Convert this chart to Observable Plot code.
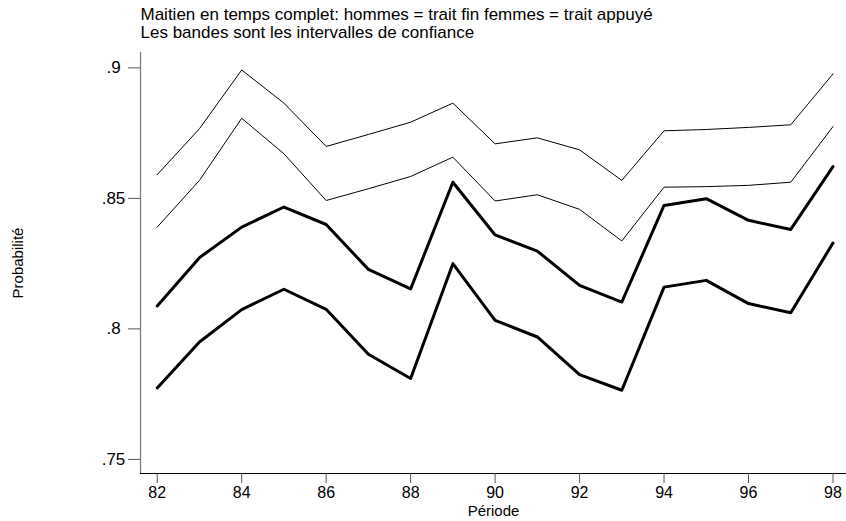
<!DOCTYPE html>
<html>
<head>
<meta charset="utf-8">
<script src="https://cdn.jsdelivr.net/npm/d3@7"></script>
<script src="https://cdn.jsdelivr.net/npm/@observablehq/plot@0.6"></script>
<style>
  html, body { margin: 0; padding: 0; background: #fff; }
  #chart svg { display: block; }
</style>
</head>
<body>
<div id="chart"></div>
<script>
// Period (two-digit years)
const annees = [82, 83, 84, 85, 86, 87, 88, 89, 90, 91, 92, 93, 94, 95, 96, 97, 98];

// Men: upper and lower confidence bands (thin lines)
const hommesHaut = [0.8591, 0.8767, 0.8992, 0.8865, 0.8699, 0.8745, 0.8792, 0.8865, 0.8709,
                    0.8732, 0.8686, 0.8569, 0.8759, 0.8764, 0.8772, 0.8782, 0.8977];
const hommesBas  = [0.8390, 0.8569, 0.8807, 0.8671, 0.8492, 0.8537, 0.8584, 0.8658, 0.8490,
                    0.8514, 0.8458, 0.8337, 0.8543, 0.8545, 0.8550, 0.8562, 0.8775];

// Women: upper and lower confidence bands (thick lines)
const femmesHaut = [0.8088, 0.8273, 0.8390, 0.8467, 0.8400, 0.8228, 0.8153, 0.8562, 0.8360,
                    0.8298, 0.8167, 0.8103, 0.8473, 0.8499, 0.8416, 0.8381, 0.8622];
const femmesBas  = [0.7774, 0.7950, 0.8074, 0.8152, 0.8075, 0.7903, 0.7810, 0.8250, 0.8033,
                    0.7969, 0.7825, 0.7765, 0.8160, 0.8186, 0.8097, 0.8062, 0.8329];

// Axis ticks and labels
const xTicks = [82, 84, 86, 88, 90, 92, 94, 96, 98];
const yTicks = [0.75, 0.8, 0.85, 0.9];
const yTickLabels = [".75", ".8", ".85", ".9"];

const titre1 = "Maitien en temps complet: hommes = trait fin femmes = trait appuyé";
const titre2 = "Les bandes sont les intervalles de confiance";

const serie = (vals) => annees.map((a, i) => ({annee: a, p: vals[i]}));

const font = "'Liberation Sans', Arial, Helvetica, sans-serif";

const chart = Plot.plot({
  width: 846,
  height: 521,
  marginTop: 52,
  marginBottom: 48,
  marginLeft: 140,
  marginRight: 0,
  style: {fontFamily: font, background: "#fff", color: "#000", overflow: "visible"},
  x: {domain: [81.604, 98.32]},
  y: {domain: [0.7446, 0.9059]},
  marks: [
    Plot.frame({anchor: "left", stroke: "#777", strokeWidth: 1.2}),
    Plot.frame({anchor: "bottom", stroke: "#000", strokeWidth: 1.2}),
    Plot.axisY({
      ticks: yTicks,
      tickFormat: (d) => yTickLabels[yTicks.indexOf(d)],
      tickSize: 12,
      tickPadding: 15,
      textAnchor: "middle",
      fontSize: 17,
      stroke: "#555",
      label: null
    }),
    Plot.axisX({
      ticks: xTicks,
      tickFormat: (d) => String(d),
      tickSize: 10,
      tickPadding: 3,
      fontSize: 16,
      stroke: "#555",
      label: null
    }),
    Plot.line(serie(hommesHaut), {x: "annee", y: "p", stroke: "#000", strokeWidth: 1}),
    Plot.line(serie(hommesBas), {x: "annee", y: "p", stroke: "#000", strokeWidth: 1}),
    Plot.line(serie(femmesHaut), {x: "annee", y: "p", stroke: "#000", strokeWidth: 3}),
    Plot.line(serie(femmesBas), {x: "annee", y: "p", stroke: "#000", strokeWidth: 3}),
    Plot.text([titre1], {frameAnchor: "top-left", dy: -38, textAnchor: "start", lineAnchor: "middle", fontSize: 17}),
    Plot.text([titre2], {frameAnchor: "top-left", dy: -20, textAnchor: "start", lineAnchor: "middle", fontSize: 17}),
    Plot.text(["Probabilité"], {frameAnchor: "left", dx: -122, rotate: -90, textAnchor: "middle", lineAnchor: "middle", fontSize: 15}),
    Plot.text(["Période"], {frameAnchor: "bottom", dy: 38, textAnchor: "middle", lineAnchor: "middle", fontSize: 15})
  ]
});

document.getElementById("chart").appendChild(chart);
</script>
</body>
</html>
